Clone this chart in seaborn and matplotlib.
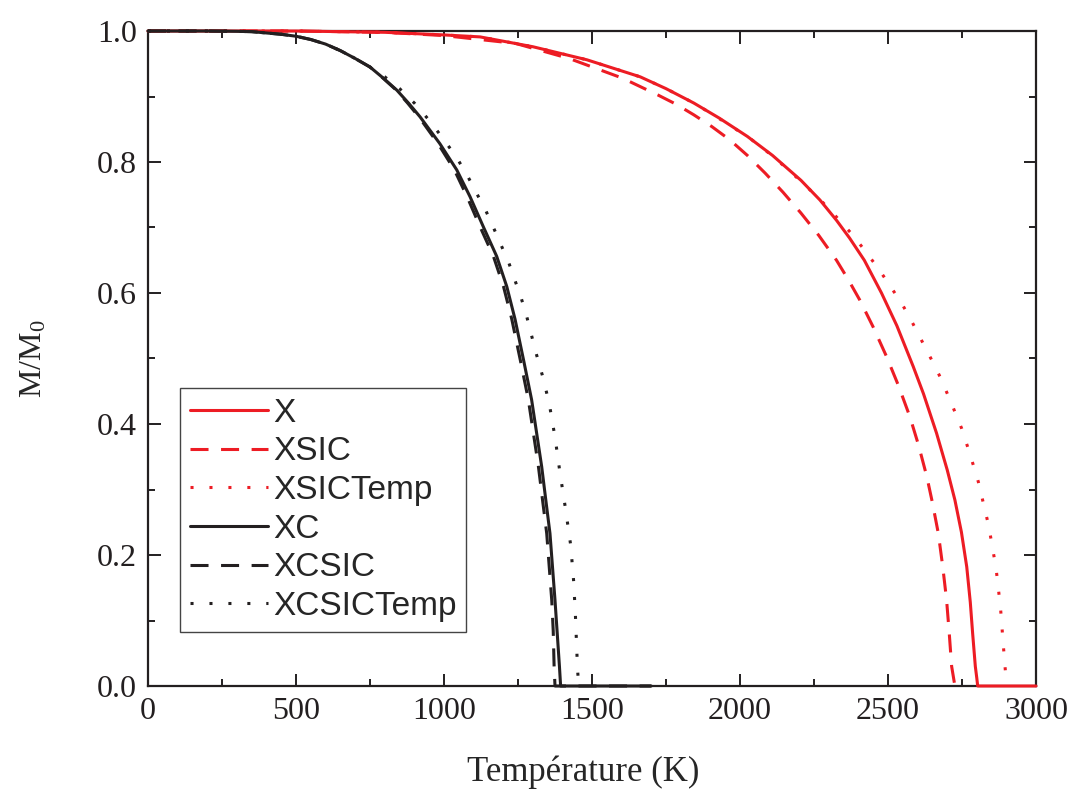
import numpy as np
import pandas as pd
import matplotlib
matplotlib.use("Agg")
import matplotlib.pyplot as plt
from matplotlib.ticker import MultipleLocator, FormatStrFormatter
import seaborn as sns

# ---------------- data ----------------
T_X = [0, 500, 800, 1000, 1122, 1300, 1483, 1663, 1750, 1844, 1930, 2025, 2110, 2206, 2270, 2326,
       2370, 2420, 2478, 2530, 2585, 2620, 2664, 2700, 2726, 2748, 2766, 2778, 2786, 2795, 2800,
       2803, 2850, 2900, 3000]
M_X = [1.0, 1.0, 0.998, 0.994, 0.991, 0.976, 0.956, 0.930, 0.912, 0.890, 0.867, 0.839, 0.810, 0.772, 0.742, 0.711,
       0.684, 0.650, 0.600, 0.550, 0.488, 0.446, 0.386, 0.330, 0.284, 0.235, 0.182, 0.128, 0.080, 0.030, 0.012,
       0.0, 0.0, 0.0, 0.0]

T_XSIC = [0, 500, 800, 1000, 1242, 1423, 1603, 1724, 1785, 1844, 1905, 1965, 2025, 2085, 2145, 2206, 2266,
          2326, 2365, 2405, 2450, 2495, 2535, 2574, 2603, 2631, 2650, 2670, 2685, 2698, 2707, 2715, 2726, 2750]
M_XSIC = [1.0, 1.0, 0.998, 0.993, 0.981, 0.958, 0.928, 0.902, 0.888, 0.872, 0.854, 0.834, 0.810, 0.783, 0.754, 0.722, 0.688,
          0.650, 0.621, 0.589, 0.548, 0.503, 0.459, 0.411, 0.368, 0.320, 0.280, 0.233, 0.182, 0.131, 0.080, 0.030, 0.0, 0.0]

T_XSICT = [0, 500, 800, 1000, 1122, 1300, 1483, 1663, 1750, 1844, 1910, 2031, 2091, 2151, 2212, 2272, 2326, 2380,
           2425, 2471, 2510, 2549, 2581, 2613, 2645, 2676, 2713, 2749, 2777, 2805, 2840, 2865, 2880, 2890, 2898, 2902]
M_XSICT = [1.0, 1.0, 0.998, 0.994, 0.991, 0.976, 0.956, 0.930, 0.912, 0.890, 0.872, 0.837, 0.816, 0.793, 0.768, 0.742, 0.716, 0.689,
           0.663, 0.635, 0.609, 0.582, 0.556, 0.528, 0.500, 0.472, 0.433, 0.393, 0.354, 0.312, 0.245, 0.180, 0.120, 0.060, 0.015, 0.0]

T_XC = [0, 200, 300, 350, 400, 450, 500, 550, 600, 650, 700, 750, 795, 840, 880, 919, 986, 1043, 1088, 1133, 1178,
        1212, 1240, 1270, 1296, 1315, 1330, 1345, 1358, 1368, 1375, 1382, 1390, 1394, 1500, 1600, 1700]
M_XC = [1.0, 1.0, 0.9995, 0.999, 0.997, 0.995, 0.992, 0.987, 0.980, 0.970, 0.958, 0.945, 0.928, 0.910, 0.890, 0.869,
        0.828, 0.788, 0.747, 0.701, 0.656, 0.610, 0.560, 0.495, 0.437, 0.380, 0.335, 0.280, 0.233, 0.173, 0.131,
        0.084, 0.030, 0.0, 0.0, 0.0, 0.0]

T_XCSIC = [0, 200, 300, 350, 400, 450, 500, 550, 600, 650, 700, 750, 794, 838, 877, 915, 980, 1035, 1078, 1122, 1167,
           1201, 1229, 1259, 1285, 1304, 1319, 1334, 1347, 1357, 1364, 1369, 1372, 1375, 1500, 1600, 1700]
M_XCSIC = [1.0, 1.0, 0.9995, 0.999, 0.997, 0.995, 0.992, 0.987, 0.980, 0.970, 0.958, 0.945, 0.928, 0.910, 0.890, 0.869,
           0.828, 0.788, 0.747, 0.701, 0.656, 0.610, 0.560, 0.495, 0.437, 0.380, 0.335, 0.280, 0.233, 0.173, 0.131,
           0.084, 0.030, 0.0, 0.0, 0.0, 0.0]

T_XCSICT = [0, 200, 300, 350, 400, 450, 500, 550, 600, 650, 700, 750, 800, 850, 902, 953, 998, 1041, 1077, 1108, 1139,
            1167, 1193, 1219, 1240, 1261, 1279, 1310, 1335, 1356, 1375, 1392, 1410, 1428, 1438, 1444, 1451, 1455]
M_XCSICT = [1.0, 1.0, 0.9995, 0.999, 0.997, 0.995, 0.992, 0.987, 0.980, 0.970, 0.958, 0.945, 0.930, 0.912, 0.889, 0.862,
            0.835, 0.808, 0.781, 0.754, 0.728, 0.700, 0.673, 0.646, 0.619, 0.592, 0.565, 0.510, 0.470, 0.430, 0.380,
            0.325, 0.272, 0.215, 0.160, 0.108, 0.027, 0.0]

labels = ["X", "XSIC", "XSICTemp", "XC", "XCSIC", "XCSICTemp"]
xticks = [0, 500, 1000, 1500, 2000, 2500, 3000]
yticks = [0.0, 0.2, 0.4, 0.6, 0.8, 1.0]

# ---------------- style ----------------
sns.set_theme(style="ticks")
plt.rcParams.update({
    "font.family": ["Liberation Serif", "DejaVu Serif"],
    "mathtext.fontset": "stix",
    "axes.linewidth": 1.6,
    "xtick.direction": "in", "ytick.direction": "in",
    "xtick.top": True, "ytick.right": True,
    "xtick.major.size": 9, "ytick.major.size": 9,
    "xtick.minor.size": 5, "ytick.minor.size": 5,
    "xtick.major.width": 1.4, "ytick.major.width": 1.4,
    "xtick.minor.width": 1.4, "ytick.minor.width": 1.4,
    "xtick.color": "#231f20", "ytick.color": "#231f20",
    "axes.edgecolor": "#231f20",
    "lines.solid_joinstyle": "round",
})

RED = "#ED1C24"
BLK = "#231F20"
DASH = (0, (5.9, 4.1))
DOT = (0, (1.0, 5.2))

series = [
    (T_X, M_X, RED, "-"),
    (T_XSIC, M_XSIC, RED, DASH),
    (T_XSICT, M_XSICT, RED, DOT),
    (T_XC, M_XC, BLK, "-"),
    (T_XCSIC, M_XCSIC, BLK, DASH),
    (T_XCSICT, M_XCSICT, BLK, DOT),
]

fig = plt.figure(figsize=(10.75, 7.9), dpi=100)
ax = fig.add_axes([148 / 1075, 1 - 686 / 790, (1036 - 148) / 1075, (686 - 31) / 790])

for (t, m, c, ls), lab in zip(series, labels):
    df = pd.DataFrame({"T": t, "M": m})
    sns.lineplot(data=df, x="T", y="M", ax=ax, color=c, linestyle=ls, lw=2.2,
                 label=lab, sort=False, estimator=None, clip_on=False, zorder=3)

ax.set_xlim(0, 3000)
ax.set_ylim(0, 1.0)
ax.set_xticks(xticks)
ax.set_yticks(yticks)
ax.xaxis.set_minor_locator(MultipleLocator(250))
ax.yaxis.set_minor_locator(MultipleLocator(0.1))
ax.yaxis.set_major_formatter(FormatStrFormatter("%.1f"))
ax.tick_params(which="both", top=True, right=True, direction="in")
ax.tick_params(axis="both", which="major", labelsize=23, pad=8)
for s in ax.spines.values():
    s.set_visible(True)
    s.set_zorder(2.5)

ax.set_xlabel("Température (K)", fontsize=25)
ax.set_ylabel(r"M/M$_\mathregular{0}$", fontsize=23)
ax.xaxis.label.set_va("center")
ax.xaxis.set_label_coords(0.49, -0.131)
ax.yaxis.set_label_coords(-0.112, 0.5)

leg = ax.legend(loc="lower left", bbox_to_anchor=(0.036, 0.0824), borderaxespad=0,
                frameon=True, fancybox=False, shadow=False, framealpha=1,
                prop={"family": "Liberation Sans", "size": 24},
                handlelength=2.34, handletextpad=0.15, labelspacing=0.23,
                borderpad=0.3, edgecolor="#444444")
leg.get_frame().set_linewidth(1.0)

fig.savefig("out.png", dpi=100)
